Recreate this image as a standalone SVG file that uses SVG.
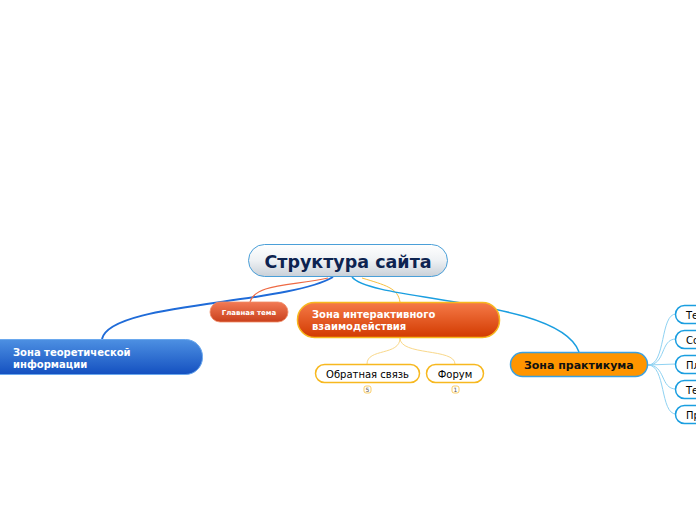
<svg xmlns="http://www.w3.org/2000/svg" width="696" height="520" viewBox="0 0 696 520">
<defs>
<linearGradient id="gRoot" x1="0" y1="0" x2="0" y2="1"><stop offset="0" stop-color="#ffffff"/><stop offset="0.5" stop-color="#eef1f4"/><stop offset="1" stop-color="#c9d0d8"/></linearGradient>
<linearGradient id="gRed" x1="0" y1="0" x2="0" y2="1"><stop offset="0" stop-color="#f27a55"/><stop offset="1" stop-color="#c9401c"/></linearGradient>
<linearGradient id="gOr" x1="0" y1="0" x2="0" y2="1"><stop offset="0" stop-color="#f57a48"/><stop offset="1" stop-color="#d23a00"/></linearGradient>
<linearGradient id="gBlue" x1="0" y1="0" x2="0" y2="1"><stop offset="0" stop-color="#4d90e2"/><stop offset="1" stop-color="#1450c0"/></linearGradient>
</defs>
<style>
text{font-family:Verdana,"DejaVu Sans","Noto Sans",sans-serif}
.c{fill:none}
.w{fill:#ffffff;stroke:#f7b81f;stroke-width:1.5}
.r{fill:#ffffff;stroke:#1a9ee0;stroke-width:1.5}
.t{font-size:10px;fill:#000000}
.b{font-size:10px;font-weight:bold;fill:#ffffff}
.badge{fill:#ffffff;stroke:#f7c040;stroke-width:0.8}
.bt{font-size:6px;fill:#555555}
</style>
<g id="connectors">
<path class="c" d="M333 277 C285 305,110 302,102 339" stroke="#1f6bd8" stroke-width="2"/>
<path class="c" d="M328 278 C290 286,255 284,250 302" stroke="#ee6a44" stroke-width="1.2"/>
<path class="c" d="M362 278 C385 285,398 288,400 302" stroke="#f7c040" stroke-width="1"/>
<path class="c" d="M352 277 C372 302,560 298,579 352" stroke="#1a9ee0" stroke-width="1.5"/>
<path class="c" d="M400 338 C400 356,367 348,367 364" stroke="#f9d88a" stroke-width="1"/>
<path class="c" d="M400 338 C400 356,455 348,455 364" stroke="#f9d88a" stroke-width="1"/>
<g stroke="#8fd2f2" stroke-width="1" fill="none">
<path d="M648 365 C666 365,660 314,676 314"/>
<path d="M648 365 C666 365,660 339,676 339"/>
<path d="M648 365 L676 364"/>
<path d="M648 365 C666 365,660 389,676 389"/>
<path d="M648 365 C666 365,660 414,676 414"/>
</g>
</g>
<g id="root">
<rect x="248.5" y="244.5" width="199" height="32" rx="16" fill="url(#gRoot)" stroke="#4a9fd8" stroke-width="1"/>
<text x="348" y="268" text-anchor="middle" font-size="17.5" font-weight="bold" fill="#0d2350">Структура сайта</text>
</g>
<g id="main-topic">
<rect x="210" y="302" width="78" height="20" rx="10" fill="url(#gRed)" stroke="#f08a66" stroke-width="0.8"/>
<text x="249" y="315" text-anchor="middle" font-size="7" font-weight="bold" fill="#ffffff">Главная тема</text>
</g>
<g id="interactive">
<rect x="297.5" y="302.5" width="202" height="35" rx="17" fill="url(#gOr)" stroke="#f7b81f" stroke-width="1.5"/>
<text class="b" x="312" y="318">Зона интерактивного</text>
<text class="b" x="312" y="330">взаимодействия</text>
</g>
<g id="theory">
<rect x="-20" y="339.5" width="222.5" height="35" rx="17" fill="url(#gBlue)" stroke="#6aa8ee" stroke-width="1"/>
<text class="b" x="13" y="356">Зона теоретической</text>
<text class="b" x="13" y="368">информации</text>
</g>
<g id="practicum">
<rect x="510.5" y="352.5" width="137" height="24" rx="12" fill="#ff9500" stroke="#3aa0e0" stroke-width="1.5"/>
<text x="524" y="369" font-size="11" font-weight="bold" fill="#111111">Зона практикума</text>
</g>
<g id="feedback">
<rect class="w" x="315.5" y="364.5" width="104" height="18" rx="9"/>
<text class="t" x="367.5" y="377.5" text-anchor="middle">Обратная связь</text>
<rect class="badge" x="364" y="386" width="7" height="7" rx="2"/>
<text class="bt" x="367.5" y="392" text-anchor="middle">5</text>
</g>
<g id="forum">
<rect class="w" x="426.5" y="364.5" width="57" height="18" rx="9"/>
<text class="t" x="455" y="377.5" text-anchor="middle">Форум</text>
<rect class="badge" x="452" y="386" width="7" height="7" rx="2"/>
<text class="bt" x="455.5" y="392" text-anchor="middle">1</text>
</g>
<g id="p1"><rect class="r" x="675.5" y="305.5" width="60" height="18" rx="9"/><text class="t" x="686" y="318.5">Те</text></g>
<g id="p2"><rect class="r" x="675.5" y="330.5" width="60" height="18" rx="9"/><text class="t" x="686" y="343.5">Со</text></g>
<g id="p3"><rect class="r" x="675.5" y="355.5" width="60" height="18" rx="9"/><text class="t" x="686" y="368.5">Пл</text></g>
<g id="p4"><rect class="r" x="675.5" y="380.5" width="60" height="18" rx="9"/><text class="t" x="686" y="393.5">Те</text></g>
<g id="p5"><rect class="r" x="675.5" y="405.5" width="60" height="18" rx="9"/><text class="t" x="686" y="418.5">Пр</text></g>
</svg>
